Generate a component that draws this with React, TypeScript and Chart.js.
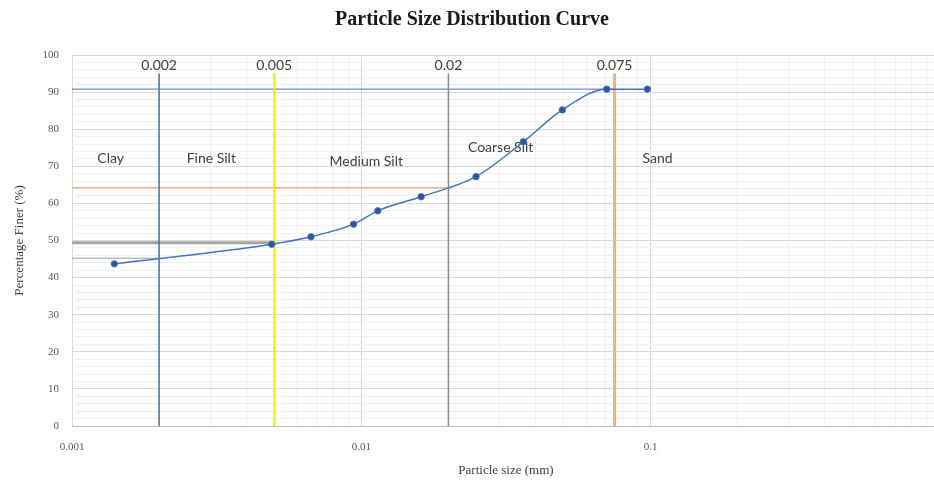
import { useEffect, useRef } from 'react';
import { Chart, registerables } from 'chart.js';

Chart.register(...registerables);

// Measured grain-size data
const sizes = [0.0014, 0.0049, 0.0067, 0.0094, 0.0114, 0.0161, 0.0249, 0.0363, 0.0495, 0.0705, 0.0974];
const finer = [43.7, 49.0, 51.0, 54.4, 58.0, 61.8, 67.2, 76.6, 85.2, 90.8, 90.8];

// Classification boundaries (vertical guides)
const boundarySizes = [0.002, 0.005, 0.02, 0.075];
const boundaryLabels = ['0.002', '0.005', '0.02', '0.075'];
const boundaryColors = ['#4A6FA5', '#F2E600', '#8C8C8C', '#F4B183'];
const boundaryWidths = [1.5, 2, 1.5, 3];
const boundaryTop = 95;
const boundaryLabelLevel = 97.3;

// Horizontal guides (percent finer at boundaries)
const guideLevels = [90.8, 64.2, 49.4, 45.2];
const guideEnds = [0.075, 0.02, 0.005, 0.002];
const guideColors = ['#4472C4', '#F4B183', '#A5A5A5', '#B4BFCF'];
const guideWidths = [1, 1.5, 3, 1.5];

// Zone labels
const zoneNames = ['Clay', 'Fine Silt', 'Medium Silt', 'Coarse Silt', 'Sand'];
const zoneSizes = [0.00136, 0.00303, 0.0104, 0.0303, 0.1057];
const zoneLevels = [72.0, 72.2, 71.4, 75.2, 72.0];

// Axis ticks
const xMin = 0.001;
const xMax = 1;
const decades = [0.001, 0.01, 0.1];
const multiples = [1, 2, 3, 4, 5, 6, 7, 8, 9];
const xLabelValues = [0.001, 0.01, 0.1];
const xLabelTexts = ['0.001', '0.01', '0.1'];
const decadeValues = [0.001, 0.01, 0.1, 1];
const yMin = 0;
const yMax = 100;
const yMajorStep = 10;
const yMinorStep = 2;

const isDecade = (v: number) => decadeValues.some((d) => Math.abs(v - d) / d < 1e-6);

const zonePlugin = {
  id: 'zoneLabels',
  beforeDatasetsDraw(chart: any) {
    const { ctx, scales } = chart;
    const x = scales.x;
    const y = scales.y;
    ctx.save();
    ctx.fillStyle = '#404040';
    ctx.textAlign = 'center';
    ctx.textBaseline = 'middle';
    ctx.font = '14px Lato';
    boundarySizes.forEach((s, i) => {
      ctx.fillText(boundaryLabels[i], x.getPixelForValue(s), y.getPixelForValue(boundaryLabelLevel));
    });
    zoneNames.forEach((n, i) => {
      ctx.fillText(n, x.getPixelForValue(zoneSizes[i]), y.getPixelForValue(zoneLevels[i]));
    });
    ctx.restore();
  },
};

export default function App() {
  const ref = useRef<HTMLCanvasElement | null>(null);

  useEffect(() => {
    if (!ref.current) return;
    const datasets: any[] = [
      {
        label: 'Percentage finer',
        data: sizes.map((s, i) => ({ x: s, y: finer[i] })),
        borderColor: '#4472C4',
        borderWidth: 1.5,
        pointRadius: 3.2,
        pointBackgroundColor: '#2F5597',
        pointBorderColor: '#4472C4',
        pointBorderWidth: 1,
        cubicInterpolationMode: 'monotone',
        fill: false,
      },
    ];
    boundarySizes.forEach((s, i) => {
      datasets.push({
        label: 'b' + i,
        data: [
          { x: s, y: yMin },
          { x: s, y: boundaryTop },
        ],
        borderColor: boundaryColors[i],
        borderWidth: boundaryWidths[i],
        pointRadius: 0,
        tension: 0,
        fill: false,
      });
    });
    guideLevels.forEach((lv, i) => {
      datasets.push({
        label: 'g' + i,
        data: [
          { x: xMin, y: lv },
          { x: guideEnds[i], y: lv },
        ],
        borderColor: guideColors[i],
        borderWidth: guideWidths[i],
        pointRadius: 0,
        tension: 0,
        fill: false,
      });
    });

    const gridValues: number[] = [];
    decades.forEach((d) => multiples.forEach((m) => gridValues.push(+(d * m).toPrecision(6))));
    gridValues.push(xMax);

    const yTicks: number[] = [];
    for (let v = yMin; v <= yMax; v += yMinorStep) yTicks.push(v);

    const chart = new Chart(ref.current, {
      type: 'line',
      data: { datasets },
      plugins: [zonePlugin],
      options: {
        animation: false,
        responsive: false,
        devicePixelRatio: 1,
        layout: { padding: { left: 0, right: 11, top: 0, bottom: 0 } },
        plugins: {
          legend: { display: false },
          tooltip: { enabled: false },
          title: {
            display: true,
            text: 'Particle Size Distribution Curve',
            color: '#1a1a1a',
            font: { family: '"Liberation Serif", "Times New Roman", serif', size: 20, weight: 'bold' },
            padding: { top: 8, bottom: 23 },
          },
        },
        scales: {
          x: {
            type: 'logarithmic',
            min: xMin,
            max: xMax,
            afterBuildTicks: (scale: any) => {
              scale.ticks = gridValues.map((v) => ({ value: v }));
            },
            afterFit: (scale: any) => {
              scale.height = 56;
            },
            ticks: {
              autoSkip: false,
              maxRotation: 0,
              minRotation: 0,
              padding: 15,
              color: '#595959',
              font: { family: '"Liberation Serif", serif', size: 11 },
              callback: (v: any) => {
                const idx = xLabelValues.findIndex((d) => Math.abs(Number(v) - d) / d < 1e-6);
                return idx >= 0 ? xLabelTexts[idx] : '';
              },
            },
            grid: {
              drawTicks: false,
              color: (c: any) => (c.tick && isDecade(c.tick.value) ? '#D9D9D9' : '#EFEFEF'),
              lineWidth: 1,
            },
            border: { color: '#BFBFBF' },
            title: {
              display: true,
              text: 'Particle size (mm)',
              color: '#404040',
              font: { family: '"Liberation Serif", serif', size: 13 },
              padding: { top: 0, bottom: 4 },
            },
          },
          y: {
            type: 'linear',
            min: yMin,
            max: yMax,
            afterBuildTicks: (scale: any) => {
              scale.ticks = yTicks.map((v) => ({ value: v }));
            },
            afterFit: (scale: any) => {
              scale.width = 72;
            },
            ticks: {
              autoSkip: false,
              padding: 13,
              color: '#595959',
              font: { family: '"Liberation Serif", serif', size: 11 },
              callback: (v: any) => (Number(v) % yMajorStep === 0 ? String(v) : ''),
            },
            grid: {
              drawTicks: false,
              color: (c: any) => (c.tick && c.tick.value % yMajorStep === 0 ? '#D9D9D9' : '#F0F0F0'),
              lineWidth: 1,
            },
            border: { display: false },
            title: {
              display: true,
              text: 'Percentage Finer (%)',
              color: '#404040',
              font: { family: '"Liberation Serif", serif', size: 13 },
              padding: { top: 12, bottom: 0 },
            },
          },
        },
      },
    } as any);
    return () => chart.destroy();
  }, []);

  return (
    <div
      style={{
        position: 'fixed',
        left: 0,
        top: 0,
        width: 934,
        height: 482,
        overflow: 'hidden',
        background: '#ffffff',
      }}
    >
      <canvas ref={ref} width={955} height={482} style={{ display: 'block' }} />
    </div>
  );
}
